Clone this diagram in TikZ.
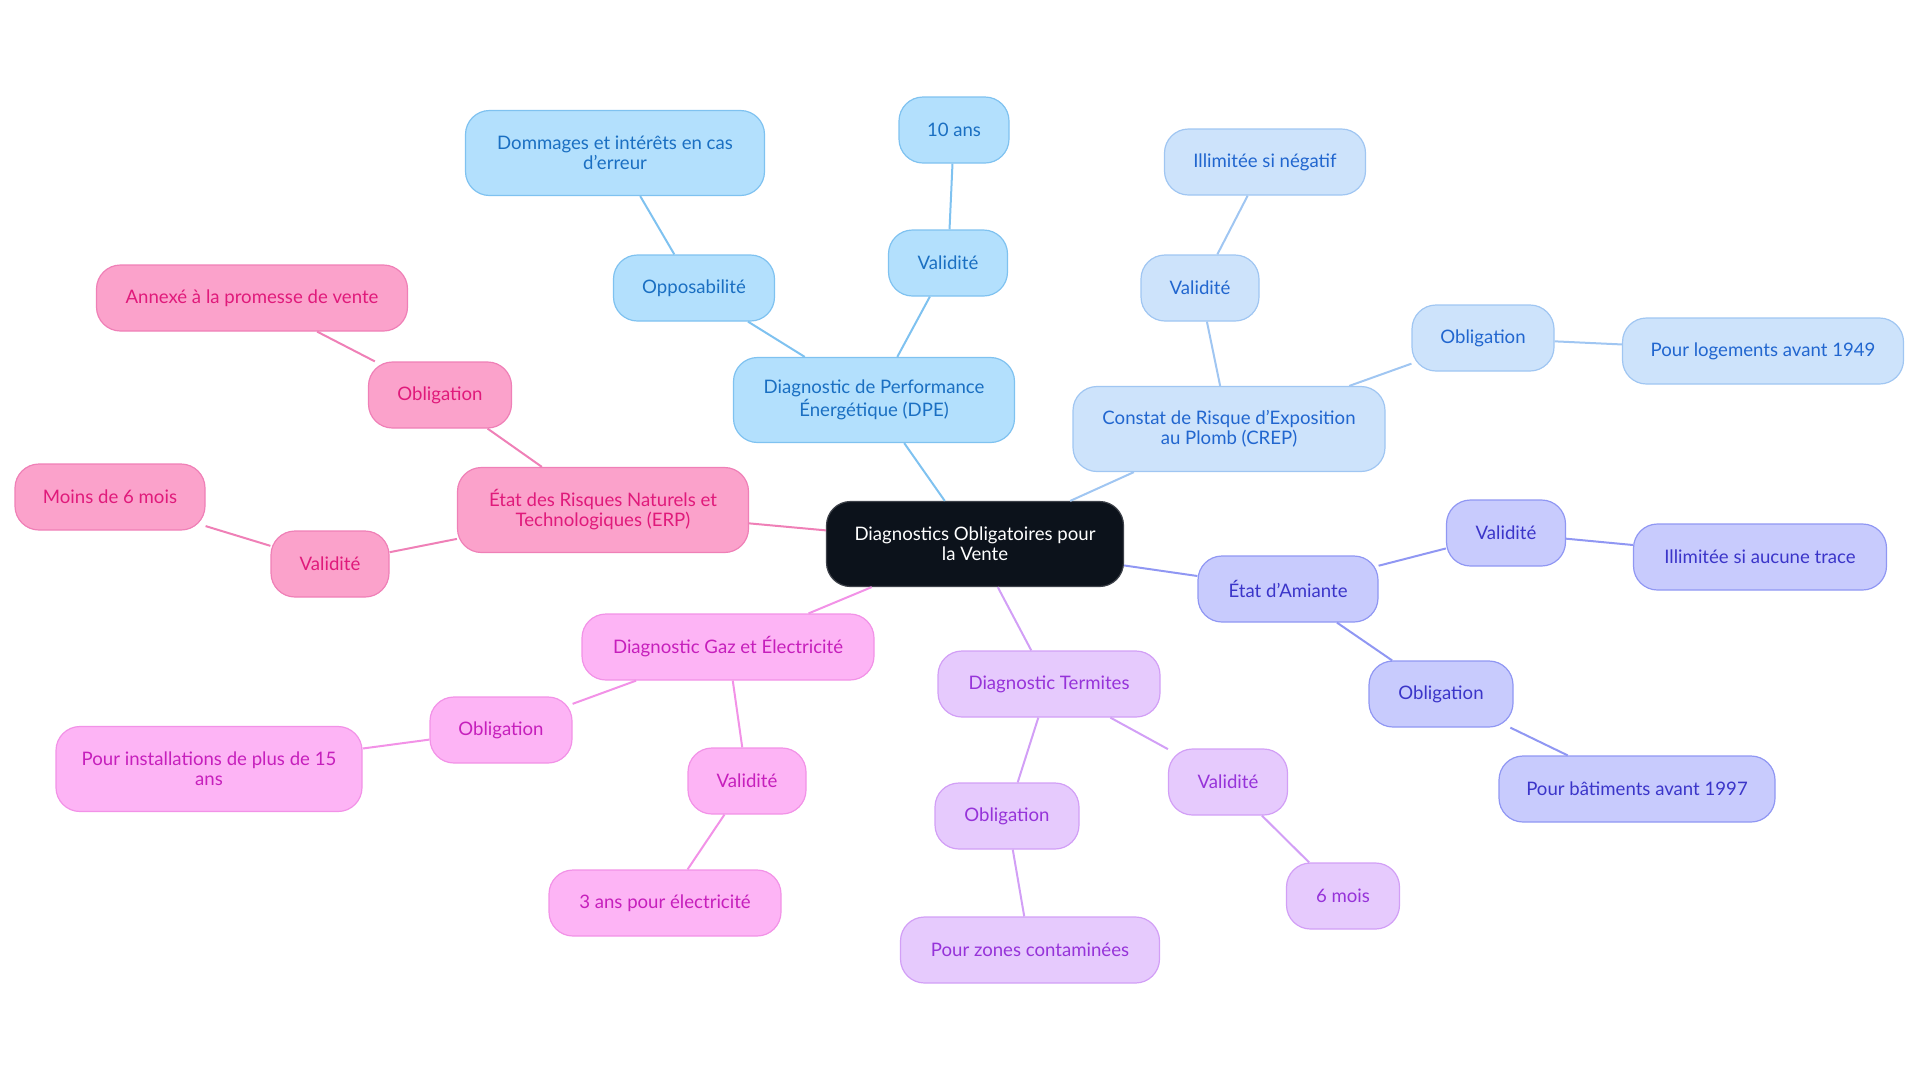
\documentclass[tikz,border=0pt]{standalone}
\usepackage{fontspec}
\setmainfont{Lato}
\definecolor{rootfill}{HTML}{0C121B}
\definecolor{dpefill}{HTML}{B3E0FD}
\definecolor{dpeline}{HTML}{7FC2F0}
\definecolor{dpetext}{HTML}{1A6FC2}
\definecolor{crepfill}{HTML}{CDE3FB}
\definecolor{crepline}{HTML}{A0C6F2}
\definecolor{creptext}{HTML}{2166CF}
\definecolor{amifill}{HTML}{C8CBFD}
\definecolor{amiline}{HTML}{9097F3}
\definecolor{amitext}{HTML}{3B35C9}
\definecolor{terfill}{HTML}{E6CAFD}
\definecolor{terline}{HTML}{D29FF6}
\definecolor{tertext}{HTML}{9633D9}
\definecolor{gazfill}{HTML}{FDB4F5}
\definecolor{gazline}{HTML}{F292E7}
\definecolor{gaztext}{HTML}{C61FBC}
\definecolor{erpfill}{HTML}{FBA2CB}
\definecolor{erpline}{HTML}{EF80B7}
\definecolor{erptext}{HTML}{E01A7B}

\tikzset{
  box/.style={rounded corners=12pt, align=center, font=\fontsize{9.3}{10}\selectfont,
    inner xsep=10pt, minimum height=33pt, line width=0.6pt},
  two/.style={minimum height=42.5pt},
  branch/.style 2 args={box, fill=#1fill, draw=#1line, text=#1text, minimum width=#2},
  link/.style={line width=1pt, draw=#1line},
}

\begin{document}
\begin{tikzpicture}[x=0.5pt, y=-0.5pt]
  \useasboundingbox (0,0) rectangle (1920,1083);

  % centre
  \node[box, two, fill=rootfill, draw=rootfill!80!white, text=white, minimum width=148.5pt] (root) at (975,544) {Diagnostics Obligatoires pour\\la Vente};

  % DPE
  \node[branch={dpe}{140.5pt}, two] (dpe) at (874,400) {Diagnostic de Performance\\Énergétique (DPE)};
  \node[branch={dpe}{80.5pt}] (dpeopp) at (694,288) {Opposabilité};
  \node[branch={dpe}{149.5pt}, two] (dpedom) at (615,153) {Dommages et intérêts en cas\\d'erreur};
  \node[branch={dpe}{59.5pt}] (dpeval) at (948,263) {Validité};
  \node[branch={dpe}{55pt}] (dpedix) at (954,130) {10 ans};

  % CREP
  \node[branch={crep}{156pt}, two] (crep) at (1229,429) {Constat de Risque d'Exposition\\au Plomb (CREP)};
  \node[branch={crep}{59pt}] (crepval) at (1200,288) {Validité};
  \node[branch={crep}{100.5pt}] (crepneg) at (1265,162) {Illimitée si négatif};
  \node[branch={crep}{71pt}] (crepobl) at (1483,338) {Obligation};
  \node[branch={crep}{140.5pt}] (creplog) at (1763,351) {Pour logements avant 1949};

  % Amiante
  \node[branch={ami}{90pt}] (ami) at (1288,589) {État d'Amiante};
  \node[branch={ami}{59.5pt}] (amival) at (1506,533) {Validité};
  \node[branch={ami}{126.5pt}] (amitrace) at (1760,557) {Illimitée si aucune trace};
  \node[branch={ami}{72pt}] (amiobl) at (1441,694) {Obligation};
  \node[branch={ami}{138pt}] (amibat) at (1637,789) {Pour bâtiments avant 1997};

  % Termites
  \node[branch={ter}{111pt}] (ter) at (1049,684) {Diagnostic Termites};
  \node[branch={ter}{59.5pt}] (terval) at (1228,782) {Validité};
  \node[branch={ter}{56.5pt}] (termois) at (1343,896) {6 mois};
  \node[branch={ter}{72pt}] (terobl) at (1007,816) {Obligation};
  \node[branch={ter}{129.5pt}] (terzone) at (1030,950) {Pour zones contaminées};

  % Gaz et electricite
  \node[branch={gaz}{146pt}] (gaz) at (728,647) {Diagnostic Gaz et Électricité};
  \node[branch={gaz}{71pt}] (gazobl) at (501,730) {Obligation};
  \node[branch={gaz}{153pt}, two] (gazinst) at (209,769) {Pour installations de plus de 15\\ans};
  \node[branch={gaz}{59pt}] (gazval) at (747,781) {Validité};
  \node[branch={gaz}{116pt}] (gazelec) at (665,903) {3 ans pour électricité};

  % ERP
  \node[branch={erp}{145.5pt}, two] (erp) at (603,510) {État des Risques Naturels et\\Technologiques (ERP)};
  \node[branch={erp}{71.5pt}] (erpobl) at (440,395) {Obligation};
  \node[branch={erp}{155.5pt}] (erpann) at (252,298) {Annexé à la promesse de vente};
  \node[branch={erp}{59pt}] (erpval) at (330,564) {Validité};
  \node[branch={erp}{95pt}] (erpmoins) at (110,497) {Moins de 6 mois};

  % links
  \draw[link=dpe] (root) -- (dpe) (dpe) -- (dpeopp) (dpeopp) -- (dpedom)
    (dpe) -- (dpeval) (dpeval) -- (dpedix);
  \draw[link=crep] (root) -- (crep) (crep) -- (crepval) (crepval) -- (crepneg)
    (crep) -- (crepobl) (crepobl) -- (creplog);
  \draw[link=ami] (root) -- (ami) (ami) -- (amival) (amival) -- (amitrace)
    (ami) -- (amiobl) (amiobl) -- (amibat);
  \draw[link=ter] (root) -- (ter) (ter) -- (terval) (terval) -- (termois)
    (ter) -- (terobl) (terobl) -- (terzone);
  \draw[link=gaz] (root) -- (gaz) (gaz) -- (gazobl) (gazobl) -- (gazinst)
    (gaz) -- (gazval) (gazval) -- (gazelec);
  \draw[link=erp] (root) -- (erp) (erp) -- (erpobl) (erpobl) -- (erpann)
    (erp) -- (erpval) (erpval) -- (erpmoins);
\end{tikzpicture}
\end{document}
